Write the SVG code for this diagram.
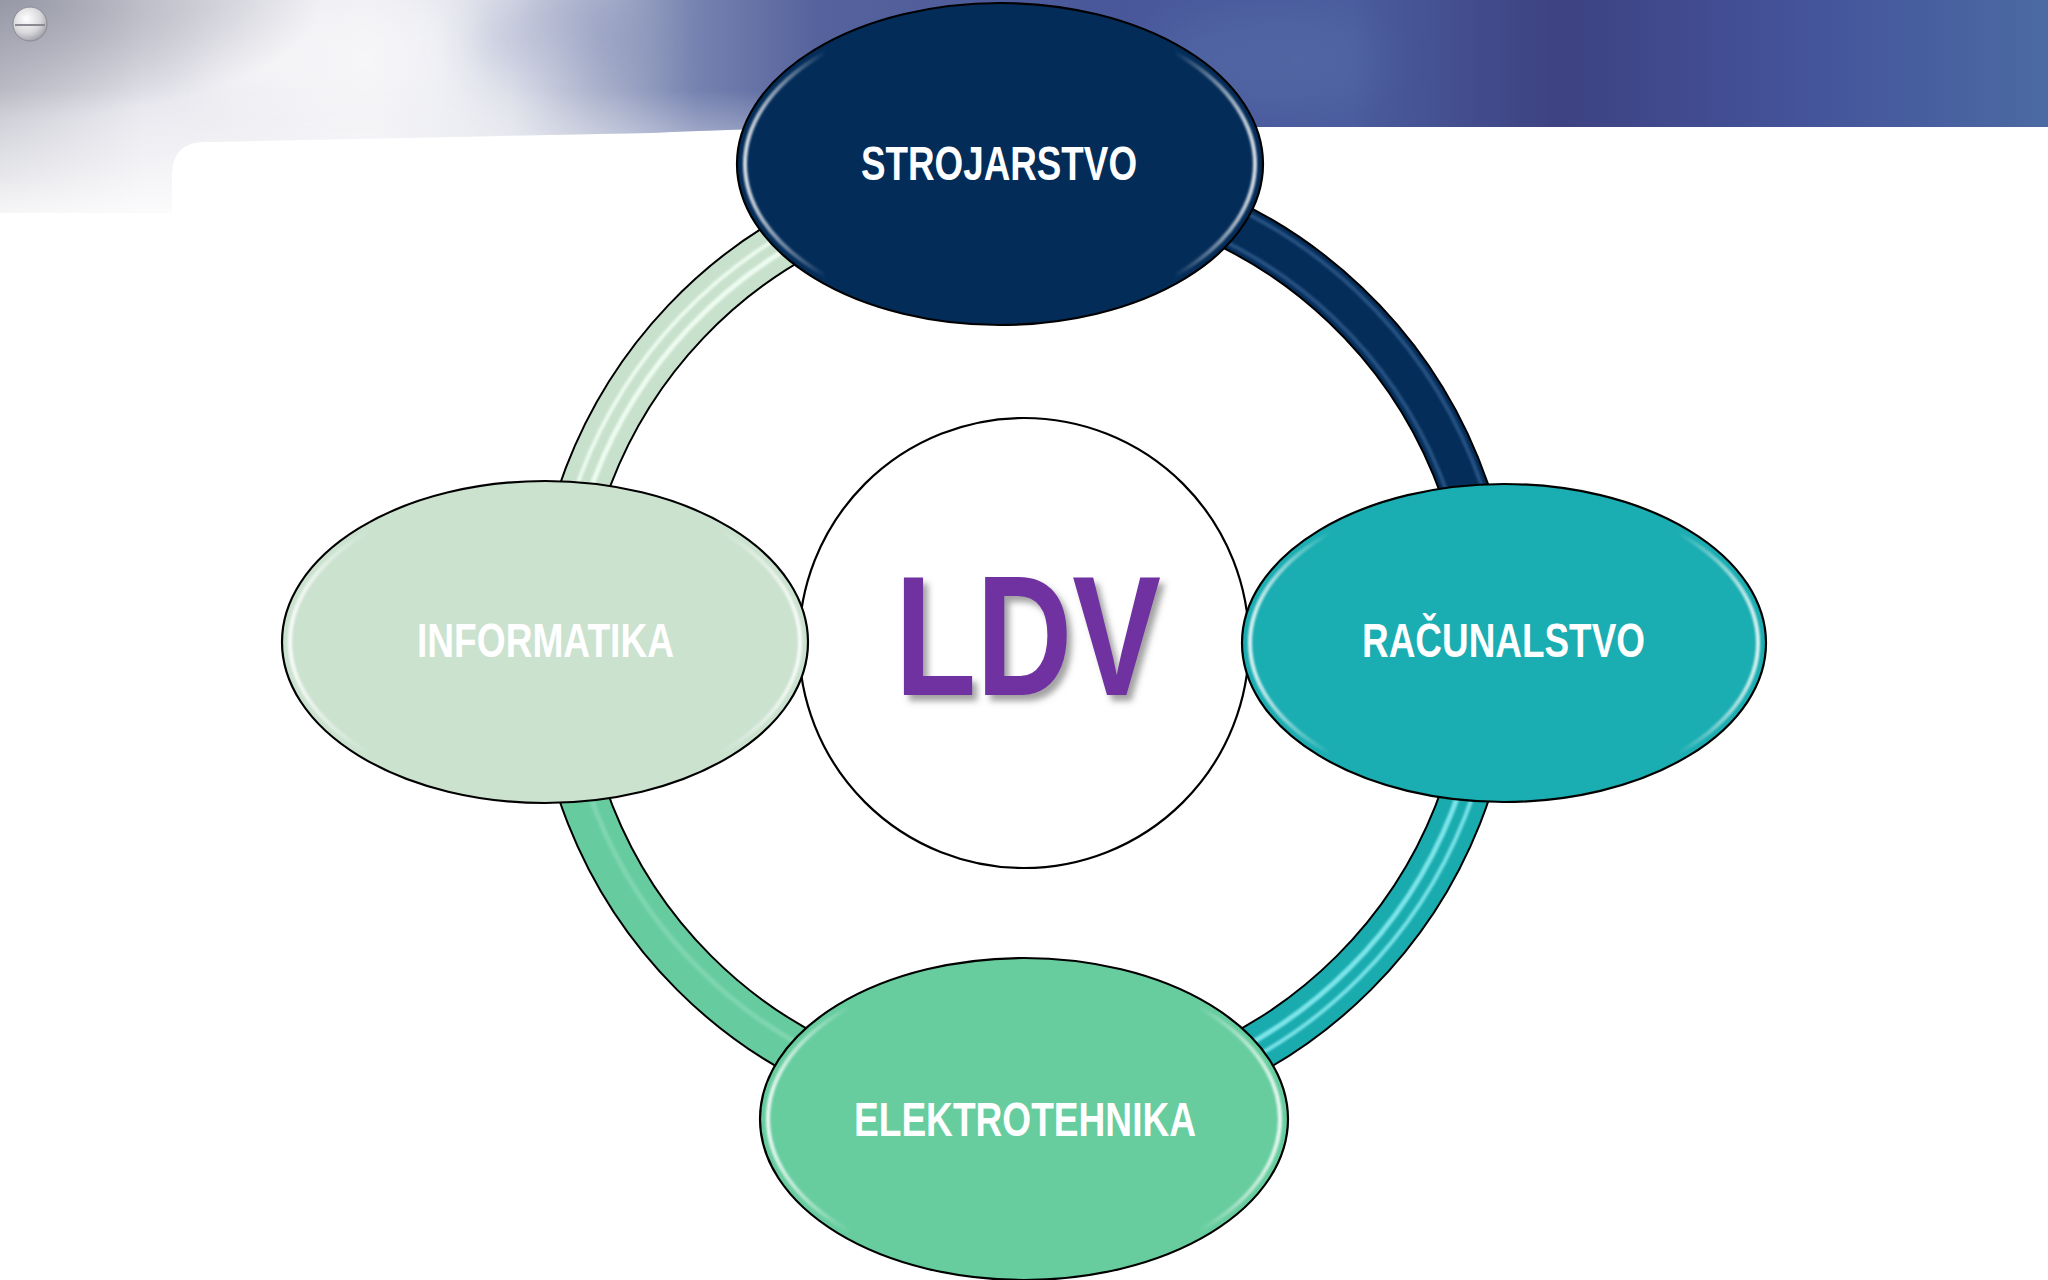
<svg xmlns="http://www.w3.org/2000/svg" width="2048" height="1280" viewBox="0 0 2048 1280">
  <defs>
    <style>
      .lbl { font-family: "Liberation Sans Narrow", "Liberation Sans", Arial, sans-serif; font-weight: bold; font-size: 48px; fill: #ffffff; }
      .ldv { font-family: "Liberation Sans Narrow", "Liberation Sans", Arial, sans-serif; font-weight: bold; font-size: 170px; fill: #7030a0; }
      .node-shape { stroke: #000000; stroke-width: 2.2; }
      .rim { fill: none; stroke: url(#rimGrad); stroke-width: 4; filter: url(#soft); }
      .arc-out { fill: none; stroke: #000000; stroke-width: 50; }
      .arc { fill: none; stroke-width: 46; }
      .stripe { fill: none; filter: url(#soft); }
    </style>
    <linearGradient id="bannerGrad" x1="0" y1="0" x2="2048" y2="0" gradientUnits="userSpaceOnUse">
      <stop offset="0" stop-color="#c4c5ce"/>
      <stop offset="0.07" stop-color="#e6e6ed"/>
      <stop offset="0.18" stop-color="#eeeef3"/>
      <stop offset="0.25" stop-color="#dcdee8"/>
      <stop offset="0.30" stop-color="#a7afca"/>
      <stop offset="0.34" stop-color="#7682b0"/>
      <stop offset="0.40" stop-color="#55629c"/>
      <stop offset="0.55" stop-color="#48579a"/>
      <stop offset="0.66" stop-color="#4a5c9d"/>
      <stop offset="0.76" stop-color="#3d4282"/>
      <stop offset="0.88" stop-color="#44539a"/>
      <stop offset="1" stop-color="#4b6aa3"/>
    </linearGradient>
    <radialGradient id="cornerDark" cx="0" cy="0" r="1" gradientUnits="objectBoundingBox">
      <stop offset="0" stop-color="#8c8d9c" stop-opacity="0.8"/>
      <stop offset="1" stop-color="#8c8d9c" stop-opacity="0"/>
    </radialGradient>
    <linearGradient id="leftFade" x1="0" y1="90" x2="0" y2="213" gradientUnits="userSpaceOnUse">
      <stop offset="0" stop-color="#ffffff" stop-opacity="0"/>
      <stop offset="1" stop-color="#ffffff" stop-opacity="0.85"/>
    </linearGradient>
    <clipPath id="bannerClip">
      <path d="M0,0 H2048 V127 H880 C800,127 720,130 650,133 L205,142 Q172,142 172,175 V213 H0 Z"/>
    </clipPath>
    <linearGradient id="rimGrad" x1="0" y1="0" x2="1" y2="0">
      <stop offset="0" stop-color="#ffffff" stop-opacity="0.85"/>
      <stop offset="0.16" stop-color="#ffffff" stop-opacity="0"/>
      <stop offset="0.84" stop-color="#ffffff" stop-opacity="0"/>
      <stop offset="1" stop-color="#ffffff" stop-opacity="0.85"/>
    </linearGradient>
    <radialGradient id="btnGrad" cx="0.4" cy="0.35" r="0.7">
      <stop offset="0" stop-color="#ffffff"/>
      <stop offset="0.6" stop-color="#d8d8dc"/>
      <stop offset="1" stop-color="#9a9aa2"/>
    </radialGradient>
    <filter id="soft" x="-5%" y="-5%" width="110%" height="110%">
      <feGaussianBlur stdDeviation="1.3"/>
    </filter>
    <filter id="cloud" x="-50%" y="-50%" width="200%" height="200%">
      <feGaussianBlur stdDeviation="25"/>
    </filter>
    <filter id="ldvShadow" x="-10%" y="-10%" width="130%" height="130%">
      <feDropShadow dx="5" dy="6" stdDeviation="3" flood-color="#555555" flood-opacity="0.55"/>
    </filter>
  </defs>

  <!-- background -->
  <rect x="0" y="0" width="2048" height="1280" fill="#ffffff"/>
  <g id="banner" clip-path="url(#bannerClip)">
    <rect x="0" y="0" width="2048" height="213" fill="url(#bannerGrad)"/>
    <ellipse cx="380" cy="60" rx="200" ry="60" fill="#ffffff" opacity="0.45" filter="url(#cloud)"/>
    <ellipse cx="560" cy="40" rx="90" ry="50" fill="#7c86b4" opacity="0.35" filter="url(#cloud)"/>
    <ellipse cx="1260" cy="60" rx="120" ry="50" fill="#5f78b0" opacity="0.35" filter="url(#cloud)"/>
    <rect x="0" y="0" width="320" height="120" fill="url(#cornerDark)"/>
    <rect x="0" y="90" width="760" height="123" fill="url(#leftFade)"/>
  </g>
  <g id="button">
    <circle cx="30" cy="24" r="17" fill="url(#btnGrad)" stroke="#8a8a92" stroke-width="1"/>
    <path d="M15,25 H45" stroke="#8a8a92" stroke-width="2"/>
  </g>

  <!-- connectors: ring segments -->
  <g id="connectors">
    <!-- STROJARSTVO -> RACUNALSTVO (navy) -->
    <g id="conn-s-r">
      <path class="arc-out" d="M999.6,177.14 A466.5,466.5 0 0 1 1490.5,643"/>
      <path class="arc" stroke="#042d5a" d="M999.6,177.14 A466.5,466.5 0 0 1 1490.5,643"/>
      <path class="stripe" stroke="#3e6a9c" stroke-width="4" opacity="0.6" d="M1000.52,194.63 A449,449 0 0 1 1473,643"/>
      <path class="stripe" stroke="#3e6a9c" stroke-width="4" opacity="0.6" d="M998.69,159.68 A484,484 0 0 1 1508,643"/>
    </g>
    <!-- RACUNALSTVO -> ELEKTROTEHNIKA (teal) -->
    <g id="conn-r-e">
      <path class="arc-out" d="M1490.5,643 A466.5,466.5 0 0 1 1024,1109.5"/>
      <path class="arc" stroke="#1aabaf" d="M1490.5,643 A466.5,466.5 0 0 1 1024,1109.5"/>
      <path class="stripe" stroke="#8ff0f4" stroke-width="5" opacity="0.85" d="M1484,643 A460,460 0 0 1 1024,1103"/>
      <path class="stripe" stroke="#8ff0f4" stroke-width="4" opacity="0.8" d="M1498,643 A474,474 0 0 1 1024,1117"/>
    </g>
    <!-- ELEKTROTEHNIKA -> INFORMATIKA (green) -->
    <g id="conn-e-i">
      <path class="arc-out" d="M1024,1109.5 A466.5,466.5 0 0 1 557.5,643"/>
      <path class="arc" stroke="#66cc9f" d="M1024,1109.5 A466.5,466.5 0 0 1 557.5,643"/>
      <path class="stripe" stroke="#8fdcbb" stroke-width="5" opacity="0.6" d="M1024,1103 A460,460 0 0 1 564,643"/>
    </g>
    <!-- INFORMATIKA -> STROJARSTVO (light green) -->
    <g id="conn-i-s">
      <path class="arc-out" d="M557.5,643 A466.5,466.5 0 0 1 999.6,177.14"/>
      <path class="arc" stroke="#c8e1cc" d="M557.5,643 A466.5,466.5 0 0 1 999.6,177.14"/>
      <path class="stripe" stroke="#f2fff5" stroke-width="5" opacity="0.9" d="M564,643 A460,460 0 0 1 999.94,183.64"/>
      <path class="stripe" stroke="#f2fff5" stroke-width="4" opacity="0.85" d="M550,643 A474,474 0 0 1 999.21,169.66"/>
    </g>
  </g>

  <!-- center node -->
  <g id="node-ldv">
    <circle cx="1024" cy="643" r="225" fill="#ffffff" stroke="#000000" stroke-width="2.2"/>
    <text class="ldv" x="895" y="695" textLength="266" lengthAdjust="spacingAndGlyphs" filter="url(#ldvShadow)">LDV</text>
  </g>

  <!-- outer nodes -->
  <g id="node-strojarstvo">
    <ellipse class="node-shape" cx="1000" cy="164" rx="263" ry="161" fill="#032c59"/>
    <ellipse class="rim" cx="1000" cy="164" rx="255" ry="153"/>
    <text class="lbl" x="861" y="180" textLength="276" lengthAdjust="spacingAndGlyphs">STROJARSTVO</text>
  </g>
  <g id="node-racunalstvo">
    <ellipse class="node-shape" cx="1504" cy="643" rx="262" ry="159" fill="#1aadb1"/>
    <ellipse class="rim" cx="1504" cy="643" rx="254" ry="151"/>
    <text class="lbl" x="1362" y="657" textLength="283" lengthAdjust="spacingAndGlyphs">RAČUNALSTVO</text>
  </g>
  <g id="node-elektrotehnika">
    <ellipse class="node-shape" cx="1024" cy="1119" rx="264" ry="161" fill="#67cd9f"/>
    <ellipse class="rim" cx="1024" cy="1119" rx="256" ry="153"/>
    <text class="lbl" x="854" y="1136" textLength="342" lengthAdjust="spacingAndGlyphs">ELEKTROTEHNIKA</text>
  </g>
  <g id="node-informatika">
    <ellipse class="node-shape" cx="545" cy="642" rx="263" ry="161" fill="#cbe2cf"/>
    <ellipse class="rim" cx="545" cy="642" rx="255" ry="153"/>
    <text class="lbl" x="417" y="657" textLength="257" lengthAdjust="spacingAndGlyphs">INFORMATIKA</text>
  </g>
</svg>
